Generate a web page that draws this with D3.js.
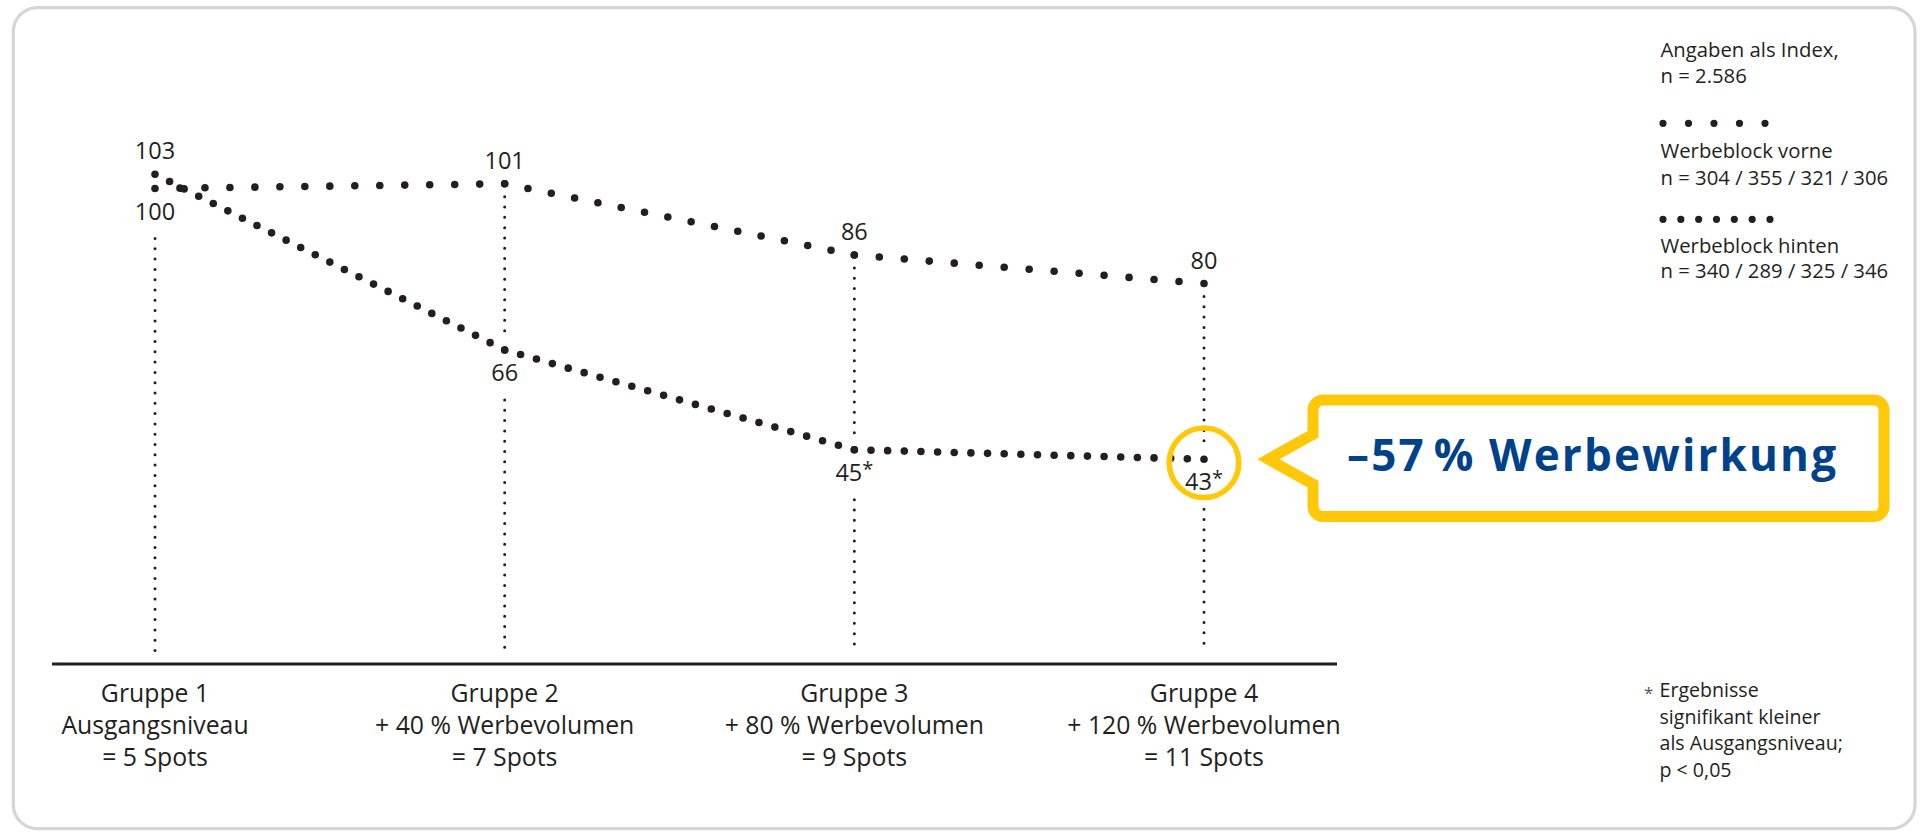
<!DOCTYPE html>
<html><head><meta charset="utf-8">
<script src="https://cdn.jsdelivr.net/npm/d3@7"></script>
<style>
html,body{margin:0;padding:0;background:#fff;}
svg{display:block;}
text{font-family:"Open Sans",sans-serif;fill:#231f20;}
</style></head><body>
<svg id="chart" width="1922" height="832"></svg>
<script>
// ---------- data ----------
const categories = ["Gruppe 1", "Gruppe 2", "Gruppe 3", "Gruppe 4"];
const categoryLine2 = ["Ausgangsniveau", "+ 40 % Werbevolumen", "+ 80 % Werbevolumen", "+ 120 % Werbevolumen"];
const categoryLine3 = ["= 5 Spots", "= 7 Spots", "= 9 Spots", "= 11 Spots"];
const vorne = [100, 101, 86, 80];
const hinten = [103, 66, 45, 43];
const hintenSignificant = [false, false, true, true];
const legendHeader = ["Angaben als Index,", "n = 2.586"];
const legendVorne = ["Werbeblock vorne", "n = 304 / 355 / 321 / 306"];
const legendHinten = ["Werbeblock hinten", "n = 340 / 289 / 325 / 346"];
const footnoteLines = ["Ergebnisse", "signifikant kleiner", "als Ausgangsniveau;", "p < 0,05"];
const calloutText = "–57\u202F% Werbewirkung";

// ---------- setup ----------
const svg = d3.select("#chart");
const INK = "#231f20", YELLOW = "#FFC90A", BLUE = "#00428A", FRAME = "#D5D6D8";

const x = d3.scalePoint().domain(categories).range([155, 1204]);
const y = d3.scaleLinear().domain([0, 100]).range([663.5, 188.5]);

// frame
svg.append("rect").attr("x", 13.3).attr("y", 7.7).attr("width", 1901.7).attr("height", 821)
  .attr("rx", 24).attr("fill", "none").attr("stroke", FRAME).attr("stroke-width", 3.2);

// dotted segment helper (dots land on both ends)
function dotted(g, x1, y1, x2, y2, spacing, w) {
  const L = Math.hypot(x2 - x1, y2 - y1);
  const n = Math.max(1, Math.round(L / spacing));
  g.append("line").attr("x1", x1).attr("y1", y1).attr("x2", x2).attr("y2", y2)
    .attr("stroke", INK).attr("stroke-width", w).attr("stroke-linecap", "round")
    .attr("stroke-dasharray", `0 ${(L - 0.01) / n}`);
}

// ---------- drop lines ----------
const dropG = svg.append("g");
const axisY = y(0);
categories.forEach((c, i) => {
  const yv = y(vorne[i]), yh = y(hinten[i]);
  const yHigh = Math.min(yv, yh), yLow = Math.max(yv, yh);
  const segs = [];
  if (yHigh + 13 < yLow - 13) segs.push([yHigh + 13, yLow - 13]);
  segs.push([yLow + 50, axisY - 11.5]);
  segs.forEach(s => {
    dropG.append("line").attr("x1", x(c)).attr("x2", x(c)).attr("y1", s[0]).attr("y2", s[1])
      .attr("stroke", INK).attr("stroke-width", 3).attr("stroke-linecap", "round")
      .attr("stroke-dasharray", "0 10.3");
  });
});

// ---------- axis ----------
svg.append("line").attr("x1", x.range()[0] - 103).attr("x2", x.range()[1] + 133)
  .attr("y1", axisY + 0.5).attr("y2", axisY + 0.5).attr("stroke", INK).attr("stroke-width", 3.2);

const axisLab = svg.append("g").attr("font-size", 24.8).attr("text-anchor", "middle");
categories.forEach((c, i) => {
  const t = axisLab.append("text").attr("x", x(c)).attr("y", 702);
  t.append("tspan").attr("x", x(c)).attr("y", 702).text(c);
  t.append("tspan").attr("x", x(c)).attr("y", 734).text(categoryLine2[i]);
  t.append("tspan").attr("x", x(c)).attr("y", 766).text(categoryLine3[i]);
});

// ---------- series ----------
const seriesG = svg.append("g");
function drawSeries(vals, spacing) {
  for (let i = 0; i < vals.length - 1; i++) {
    dotted(seriesG, x(categories[i]), y(vals[i]), x(categories[i + 1]), y(vals[i + 1]), spacing, 7.6);
  }
}
drawSeries(vorne, 24.5);
drawSeries(hinten, 16.3);

// ---------- value labels ----------
const labG = svg.append("g").attr("font-size", 23.5).attr("text-anchor", "middle");
categories.forEach((c, i) => {
  const items = [
    { v: vorne[i], sig: false },
    { v: hinten[i], sig: hintenSignificant[i] }
  ];
  const hiIsVorne = vorne[i] >= hinten[i];
  items.forEach((it, k) => {
    const isHigh = (k === 0) === hiIsVorne;
    const ty = isHigh ? y(it.v) - 15 : y(it.v) + 31;
    const t = labG.append("text").attr("x", x(c)).attr("y", ty);
    t.append("tspan").text(it.v);
    if (it.sig) t.append("tspan").attr("font-size", 20).attr("dy", -5).text("*");
  });
});

// ---------- highlight circle + callout ----------
const cx = x(categories[3]), cy = y(hinten[3]) + 3.5;
svg.append("circle").attr("cx", cx).attr("cy", cy).attr("r", 34.8)
  .attr("fill", "none").attr("stroke", YELLOW).attr("stroke-width", 5.6);

const tipX = cx + 64.5, tipY = y(hinten[3]);
const bx0 = 1313, bx1 = 1884, by0 = 400, by1 = 516.5, r = 10;
const p = d3.path();
p.moveTo(bx0 + r, by0);
p.lineTo(bx1 - r, by0);
p.arcTo(bx1, by0, bx1, by0 + r, r);
p.lineTo(bx1, by1 - r);
p.arcTo(bx1, by1, bx1 - r, by1, r);
p.lineTo(bx0 + r, by1);
p.arcTo(bx0, by1, bx0, by1 - r, r);
p.lineTo(bx0, tipY + 25);
p.lineTo(tipX, tipY);
p.lineTo(bx0, tipY - 25);
p.lineTo(bx0, by0 + r);
p.arcTo(bx0, by0, bx0 + r, by0, r);
p.closePath();
svg.append("path").attr("d", p.toString()).attr("fill", "#fff")
  .attr("stroke", YELLOW).attr("stroke-width", 11).attr("stroke-linejoin", "miter").attr("stroke-miterlimit", 10);

svg.append("text").attr("x", 1347).attr("y", 471).attr("font-size", 44).attr("font-weight", 700)
  .style("fill", BLUE).attr("textLength", 489).attr("lengthAdjust", "spacing").text(calloutText);

// ---------- legend ----------
const legG = svg.append("g").attr("font-size", 20.3);
function textLines(g, lines, x0, ys) {
  lines.forEach((l, i) => g.append("text").attr("x", x0).attr("y", ys[i]).text(l));
}
textLines(legG, legendHeader, 1660.5, [56.7, 82.7]);
dotted(legG, 1663, 123.3, 1765, 123.3, 25.5, 7.2);
textLines(legG, legendVorne, 1660.5, [158.3, 185]);
dotted(legG, 1663, 219.3, 1770, 219.3, 17.8, 7.2);
textLines(legG, legendHinten, 1660.5, [253.3, 278.3]);

// ---------- footnote ----------
const fnG = svg.append("g").attr("font-size", 19.6);
fnG.append("text").attr("x", 1644).attr("y", 699).attr("font-size", 17).style("fill", "#555").text("*");
textLines(fnG, footnoteLines, 1659.5, [697.3, 723.8, 750.3, 776.8]);
</script>
</body></html>
